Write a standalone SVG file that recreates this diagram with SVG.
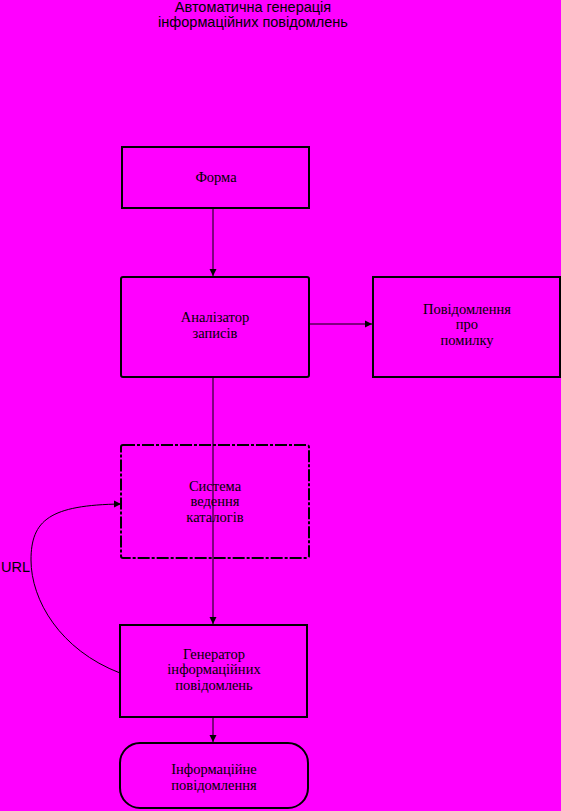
<svg xmlns="http://www.w3.org/2000/svg" width="561" height="811" viewBox="0 0 561 811">
<defs>
<marker id="ah" markerWidth="8" markerHeight="8" refX="7" refY="4" orient="auto" markerUnits="userSpaceOnUse">
<path d="M0,0.5 L7,4 L0,7.5 Z" fill="#000"/>
</marker>
<style>
.box{fill:none;stroke:#000;stroke-width:2}
.t{font-family:"Liberation Serif",serif;font-size:14.5px;fill:#000;text-anchor:middle}
.s{font-family:"Liberation Sans",sans-serif;font-size:14.5px;fill:#000}
.c{fill:none;stroke:#000;stroke-width:1}
</style>
</defs>
<rect width="561" height="811" fill="#FF00FF"/>
<text class="s" x="253" y="12" text-anchor="middle">Автоматична генерація</text>
<text class="s" x="253" y="27" text-anchor="middle">інформаційних повідомлень</text>
<g id="connectors">
<line class="c" x1="213" y1="208" x2="213" y2="276" marker-end="url(#ah)"/>
<line class="c" x1="309" y1="324" x2="372" y2="324" stroke-width="2" marker-end="url(#ah)"/>
<line class="c" x1="213" y1="377" x2="213" y2="624" marker-end="url(#ah)"/>
<line class="c" x1="213" y1="717" x2="213" y2="742" marker-end="url(#ah)"/>
<path class="c" d="M120,673 C60,650 31,600 31,560 C31,520 50,505 121,504" marker-end="url(#ah)"/>
<text class="s" x="1" y="572" font-size="13">URL</text>
</g>
<g id="forma">
<rect class="box" x="122" y="147" width="187" height="61" stroke-width="1.5"/>
<text class="t" x="216" y="182">Форма</text>
</g>
<g id="analizator">
<rect class="box" x="121" y="277" width="188" height="100" rx="2"/>
<text class="t" x="215" y="322">Аналізатор</text>
<text class="t" x="215" y="338">записів</text>
</g>
<g id="povidomlennia">
<rect class="box" x="373" y="277" width="187" height="100"/>
<text class="t" x="467" y="314">Повідомлення</text>
<text class="t" x="467" y="329">про</text>
<text class="t" x="467" y="345">помилку</text>
</g>
<g id="systema">
<rect class="box" x="121" y="445" width="188" height="113" rx="2" stroke-dasharray="12,2,3,2"/>
<text class="t" x="215" y="491">Система</text>
<text class="t" x="215" y="506">ведення</text>
<text class="t" x="215" y="522">каталогів</text>
</g>
<g id="generator">
<rect class="box" x="120" y="625" width="187" height="92"/>
<text class="t" x="214" y="659">Генератор</text>
<text class="t" x="214" y="674">інформаційних</text>
<text class="t" x="214" y="690">повідомлень</text>
</g>
<g id="info">
<rect class="box" x="120" y="743" width="188" height="65" rx="20"/>
<text class="t" x="214" y="774">Інформаційне</text>
<text class="t" x="214" y="790">повідомлення</text>
</g>
</svg>
